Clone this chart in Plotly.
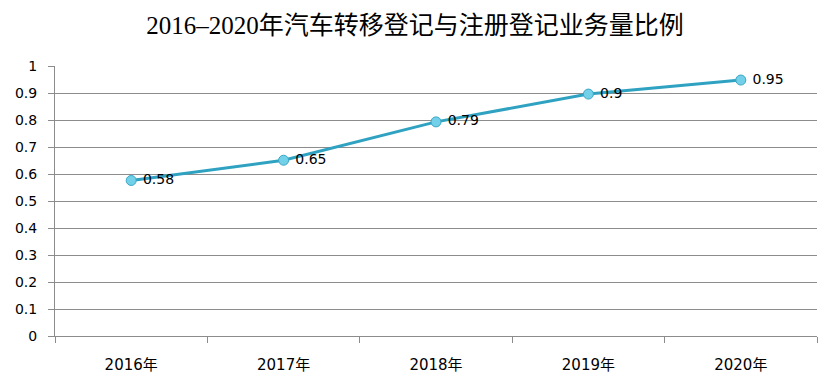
import plotly.graph_objects as go

years = ["2016年", "2017年", "2018年", "2019年", "2020年"]
ratios = [0.576, 0.651, 0.793, 0.896, 0.948]
y_ticks = [0, 0.1, 0.2, 0.3, 0.4, 0.5, 0.6, 0.7, 0.8, 0.9, 1]
y_tick_labels = ["0", "0.1", "0.2", "0.3", "0.4", "0.5", "0.6", "0.7", "0.8", "0.9", "1"]

grid = "#8c8c8c"
font_fam = "DejaVu Sans, Noto Sans CJK SC, sans-serif"

fig = go.Figure()
fig.add_trace(go.Scatter(
    x=years, y=ratios, mode="lines+markers+text",
    line=dict(color="#2fa2c2", width=3),
    marker=dict(size=10, color="#72d0e8", line=dict(color="#3aa7c6", width=1)),
    texttemplate=" %{y:.2~f}", textposition="middle right",
    textfont=dict(family=font_fam, size=14, color="#000000"),
    showlegend=False, cliponaxis=False,
))

fig.update_layout(
    width=831, height=392,
    margin=dict(l=47, r=22, t=58, b=64, autoexpand=False),
    paper_bgcolor="white", plot_bgcolor="white",
    title=dict(text="2016–2020年汽车转移登记与注册登记业务量比例",
               x=(415 - 8) / 831, xanchor="center", y=1 - 17 / 392, yanchor="middle",
               font=dict(family="Liberation Serif, Noto Sans CJK SC", size=25, color="#000000")),
    xaxis=dict(
        type="category", range=[-0.5, 4.5], tickson="boundaries", ticks="outside", ticklen=6,
        tickcolor=grid, showline=True, linecolor=grid, linewidth=1, automargin=False,
        showgrid=False, tickfont=dict(family=font_fam, size=15, color="#000000"),
        ticklabelstandoff=15,
    ),
    yaxis=dict(
        range=[0, 1], tickvals=y_ticks, ticktext=y_tick_labels, automargin=False,
        ticks="outside", ticklen=6, tickcolor=grid,
        showline=True, linecolor=grid, linewidth=1,
        showgrid=True, gridcolor=grid, gridwidth=1,
        zeroline=False, tickfont=dict(family=font_fam, size=14, color="#000000"),
        ticklabelstandoff=8,
    ),
)

fig.write_html("out.html")
